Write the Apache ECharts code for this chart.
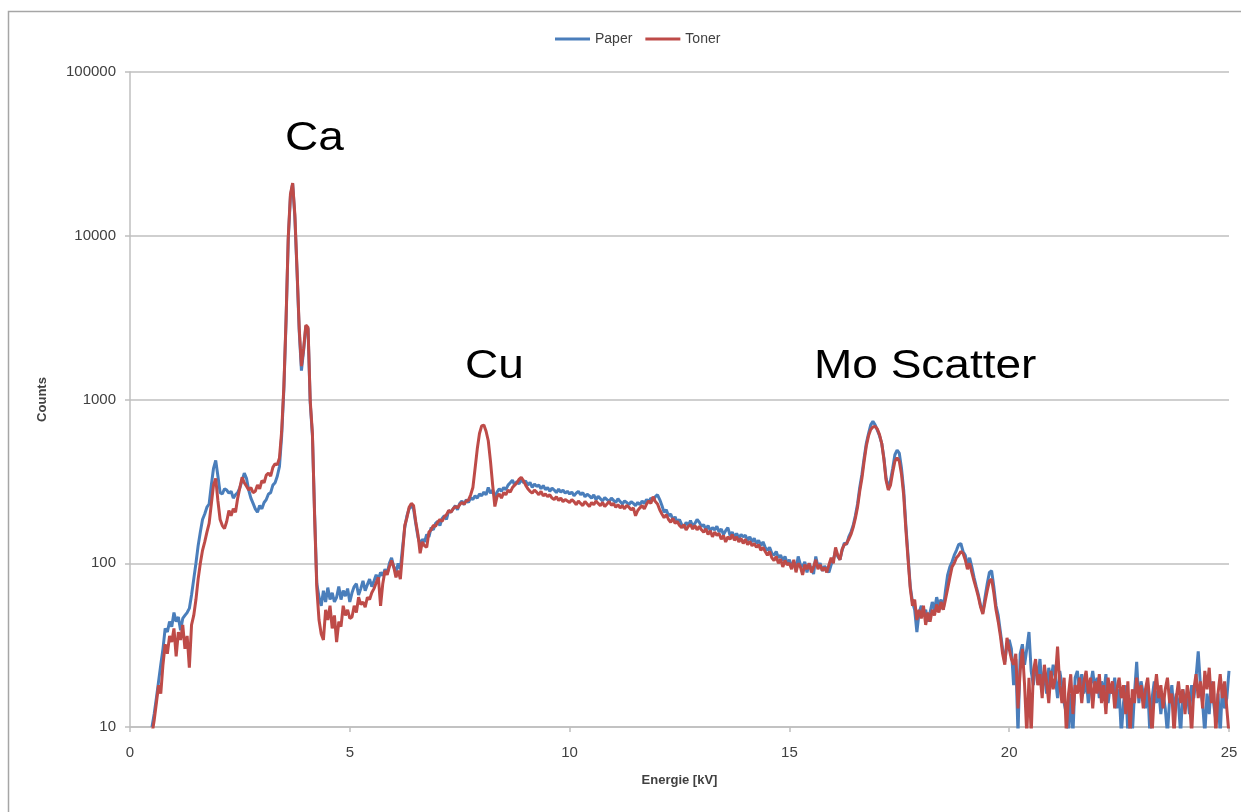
<!DOCTYPE html>
<html>
<head>
<meta charset="utf-8">
<title>Paper / Toner spectrum</title>
<script src="https://cdn.jsdelivr.net/npm/echarts/dist/echarts.min.js"></script>
<style>
  html, body { margin: 0; padding: 0; background: #fff; }
  #chart { width: 1241px; height: 812px; }
</style>
</head>
<body>
<div id="chart"></div>
<script>
// energy axis: first channel and channel width (kV)
const energyStart = 0.5
const energyStep = 0.05

// counts per channel (one row = 0.5 kV)
const paper = [
  10, 12, 15, 19, 24, 30, 40, 38, 44, 41,
  50, 44, 47, 39, 46, 48, 50, 53, 64, 80,
  100, 128, 155, 185, 200, 220, 230, 300, 380, 425,
  340, 270, 265, 285, 280, 268, 275, 250, 262, 270,
  290, 320, 355, 330, 280, 250, 232, 215, 205, 225,
  215, 235, 245, 265, 270, 300, 310, 340, 390, 600,
  1150, 3000, 9500, 17500, 20800, 13000, 6000, 2600, 1500, 2000,
  2800, 2700, 950, 600, 200, 75, 62, 55, 68, 58,
  71, 60, 66, 58, 62, 72, 60, 68, 63, 70,
  58, 66, 72, 75, 64, 70, 78, 68, 74, 80,
  72, 78, 85, 80, 88, 84, 92, 86, 100, 108,
  95, 88, 100, 92, 125, 165, 195, 215, 225, 215,
  175, 145, 130, 140, 135, 150, 145, 165, 160, 175,
  180, 170, 188, 195, 185, 210, 205, 215, 225, 212,
  232, 240, 228, 245, 235, 252, 245, 258, 250, 265,
  258, 272, 262, 290, 268, 280, 255, 272, 285, 275,
  290, 282, 300, 310, 322, 300, 315, 305, 325, 310,
  318, 300, 312, 290, 305, 295, 300, 285, 298, 282,
  290, 275, 288, 280, 270, 284, 272, 280, 268, 275,
  265, 272, 258, 268, 275, 262, 270, 255, 264, 258,
  250, 262, 245, 256, 248, 240, 252, 245, 238, 250,
  242, 235, 248, 238, 230, 240, 235, 228, 238, 232,
  225, 235, 228, 240, 232, 245, 238, 250, 242, 255,
  262, 245, 225, 205, 212, 195, 200, 185, 192, 178,
  185, 172, 165, 178, 170, 182, 168, 175, 185, 178,
  168, 172, 160, 170, 158, 165, 160, 168, 155, 162,
  150, 158, 165, 148, 155, 145, 152, 142, 150, 145,
  148, 138, 145, 135, 142, 132, 138, 128, 135, 125,
  120, 125, 115, 112, 118, 108, 112, 104, 110, 100,
  105, 96, 102, 92, 110, 98, 95, 102, 88, 100,
  92, 86, 110, 95, 100, 90, 96, 92, 88, 98,
  105, 120, 110, 105, 120, 133, 130, 145, 155, 170,
  195, 230, 290, 350, 440, 540, 620, 700, 735, 700,
  650, 600, 540, 440, 330, 290, 320, 380, 460, 490,
  470, 380, 280, 170, 110, 72, 58, 52, 38, 50,
  55, 48, 52, 44, 50, 58, 52, 62, 55, 60,
  52, 68, 85, 95, 102, 112, 120, 130, 132, 118,
  112, 98, 108, 95, 82, 72, 64, 55, 50, 62,
  75, 88, 90, 72, 55, 48, 38, 30, 25, 32,
  34, 30, 18, 26, 9, 28, 32, 24, 30, 38,
  22, 18, 24, 20, 26, 17, 22, 16, 23, 19,
  24, 20, 15, 22, 18, 14, 12, 9, 16, 9,
  20, 22, 17, 21, 16, 20, 14, 18, 22, 17,
  20, 15, 19, 16, 21, 14, 18, 16, 20, 13,
  17, 9, 14, 18, 9, 15, 9, 16, 25, 14,
  19, 16, 13, 18, 9, 15, 19, 14, 17, 12,
  16, 13, 9, 15, 18, 12, 16, 14, 9, 17,
  14, 16, 12, 18, 15, 20, 29, 18, 14, 9,
  16, 12, 19, 14, 11, 16, 9, 18, 13, 15,
  22
]

const toner = [
  9, 11, 14, 18, 16, 24, 32, 28, 36, 33,
  40, 27, 38, 34, 42, 30, 36, 23, 42, 48,
  60, 80, 100, 120, 135, 155, 175, 230, 300, 330,
  240, 185, 170, 163, 180, 210, 195, 215, 205, 250,
  290, 335, 310, 295, 280, 290, 270, 275, 300, 285,
  320, 310, 345, 355, 340, 385, 405, 400, 440, 640,
  1200, 3100, 9800, 18000, 21000, 13500, 6200, 2700, 1600, 2050,
  2850, 2750, 980, 620, 190, 70, 45, 37, 34, 52,
  45, 55, 40, 48, 33, 44, 41, 55, 48, 52,
  46, 47, 55, 50, 62, 56, 58, 54, 62, 60,
  66, 70, 76, 82, 55, 75, 90, 85, 95, 104,
  95, 82, 90, 80, 115, 170, 190, 220, 232, 225,
  180, 150, 115, 135, 128, 125, 155, 160, 170, 168,
  178, 185, 180, 192, 198, 210, 205, 215, 222, 218,
  228, 235, 230, 240, 243, 262, 290, 380, 500, 620,
  690, 698, 640, 560, 420, 300, 222, 255, 265, 250,
  270, 262, 280, 272, 290, 300, 310, 325, 335, 320,
  300, 285, 275, 268, 280, 272, 262, 275, 258, 265,
  255, 262, 250, 245, 255, 242, 250, 238, 245, 240,
  235, 245, 238, 228, 240, 232, 225, 238, 230, 222,
  235, 228, 240, 232, 225, 235, 222, 230, 238, 226,
  232, 220, 228, 218, 225, 215, 226, 220, 212, 218,
  195, 210, 218, 225, 215, 230, 240, 232, 255, 238,
  230, 212, 200, 190, 198, 185, 178, 188, 175, 180,
  170, 165, 172, 160, 168, 172, 162, 170, 160, 168,
  160, 155, 162, 150, 158, 145, 155, 148, 152, 140,
  148, 135, 145, 140, 150, 138, 145, 135, 142, 132,
  140, 130, 136, 128, 132, 125, 130, 120, 125, 118,
  112, 118, 108, 104, 110, 100, 106, 95, 104, 98,
  100, 92, 105, 88, 100, 95, 85, 98, 92, 100,
  88, 95, 105, 92, 98, 90, 94, 88, 98, 108,
  100, 125, 112, 105, 122, 130, 132, 140, 150, 165,
  188, 220, 275, 330, 420, 520, 600, 655, 680, 685,
  660, 610, 540, 430, 320, 280, 300, 360, 420, 440,
  420, 350, 260, 160, 105, 70, 55, 60, 45, 52,
  46, 55, 42, 50, 44, 52, 48, 56, 50, 58,
  52, 60, 70, 82, 95, 100, 108, 112, 118, 115,
  105, 92, 100, 88, 78, 70, 62, 54, 49, 58,
  68, 78, 80, 66, 52, 44, 36, 28, 24, 35,
  30, 26, 24, 28, 13, 22, 30, 18, 9, 20,
  9, 22, 26, 18, 21, 15, 24, 19, 14, 22,
  17, 20, 31, 18, 14, 20, 9, 16, 21, 12,
  18, 16, 20, 14, 19, 22, 16, 20, 13, 19,
  16, 21, 14, 18, 12, 20, 16, 19, 13, 17,
  20, 15, 18, 12, 19, 9, 17, 14, 20, 15,
  18, 13, 17, 20, 14, 9, 16, 21, 15, 18,
  13, 17, 20, 14, 16, 9, 15, 19, 14, 17,
  12, 18, 15, 9, 17, 21, 15, 19, 13, 22,
  17, 23, 14, 19, 9, 16, 21, 15, 19, 13,
  9
]

// peak labels
const peakLabels = ['Ca', 'Cu', 'Mo Scatter']

const toPoints = (counts) =>
  counts.map((c, i) => [+(energyStart + i * energyStep).toFixed(2), c])

const chart = echarts.init(document.getElementById('chart'))

const axisGray = '#bfbfbf'
const textGray = '#404040'
const font = '"Liberation Sans", Arial, sans-serif'

chart.setOption({
  animation: false,
  backgroundColor: '#fff',
  grid: { left: 130, right: 12, top: 72, bottom: 85 },
  legend: {
    data: ['Paper', 'Toner'],
    left: 550,
    top: 27,
    icon: 'rect',
    itemWidth: 35,
    itemHeight: 3,
    itemGap: 13,
    textStyle: { fontSize: 14, color: textGray, fontFamily: font }
  },
  xAxis: {
    type: 'value',
    min: 0,
    max: 25,
    interval: 5,
    name: 'Energie [kV]',
    nameLocation: 'middle',
    nameGap: 47,
    nameTextStyle: { fontSize: 13, fontWeight: 'bold', color: textGray, fontFamily: font },
    axisLine: { lineStyle: { color: axisGray, width: 1.5 } },
    axisTick: { show: true, length: 5, lineStyle: { color: axisGray, width: 1.5 } },
    axisLabel: { fontSize: 15, color: textGray, fontFamily: font, margin: 18 },
    splitLine: { show: false }
  },
  yAxis: {
    type: 'log',
    logBase: 10,
    min: 10,
    max: 100000,
    name: 'Counts',
    nameLocation: 'middle',
    nameGap: 81,
    nameTextStyle: { fontSize: 13, fontWeight: 'bold', color: textGray, fontFamily: font },
    axisLine: { show: true, lineStyle: { color: axisGray, width: 1.5 } },
    axisTick: { show: true, length: 5, lineStyle: { color: axisGray, width: 1.5 } },
    axisLabel: {
      fontSize: 15, color: textGray, fontFamily: font, margin: 14,
      formatter: v => String(Math.round(v))
    },
    splitLine: { show: true, lineStyle: { color: axisGray, width: 1.5 } }
  },
  series: [
    {
      name: 'Paper',
      type: 'line',
      data: toPoints(paper),
      showSymbol: false,
      clip: true,
      color: '#4a7ebb',
      lineStyle: { width: 3, color: '#4a7ebb' }
    },
    {
      name: 'Toner',
      type: 'line',
      data: toPoints(toner),
      showSymbol: false,
      clip: true,
      color: '#be4b48',
      lineStyle: { width: 3, color: '#be4b48' }
    }
  ],
  graphic: [
    {
      type: 'rect',
      silent: true,
      z: -10,
      shape: { x: 8.5, y: 11.5, width: 1400, height: 900 },
      style: { fill: 'none', stroke: '#a6a6a6', lineWidth: 1.5 }
    },
    {
      type: 'text', x: 285, y: 139, scaleX: 1.15,
      style: { text: peakLabels[0], fontSize: 40, fontFamily: font, fill: '#000', align: 'left', verticalAlign: 'middle' }
    },
    {
      type: 'text', x: 465, y: 367, scaleX: 1.15,
      style: { text: peakLabels[1], fontSize: 40, fontFamily: font, fill: '#000', align: 'left', verticalAlign: 'middle' }
    },
    {
      type: 'text', x: 814, y: 367, scaleX: 1.15,
      style: { text: peakLabels[2], fontSize: 40, fontFamily: font, fill: '#000', align: 'left', verticalAlign: 'middle' }
    }
  ]
})
</script>
</body>
</html>
